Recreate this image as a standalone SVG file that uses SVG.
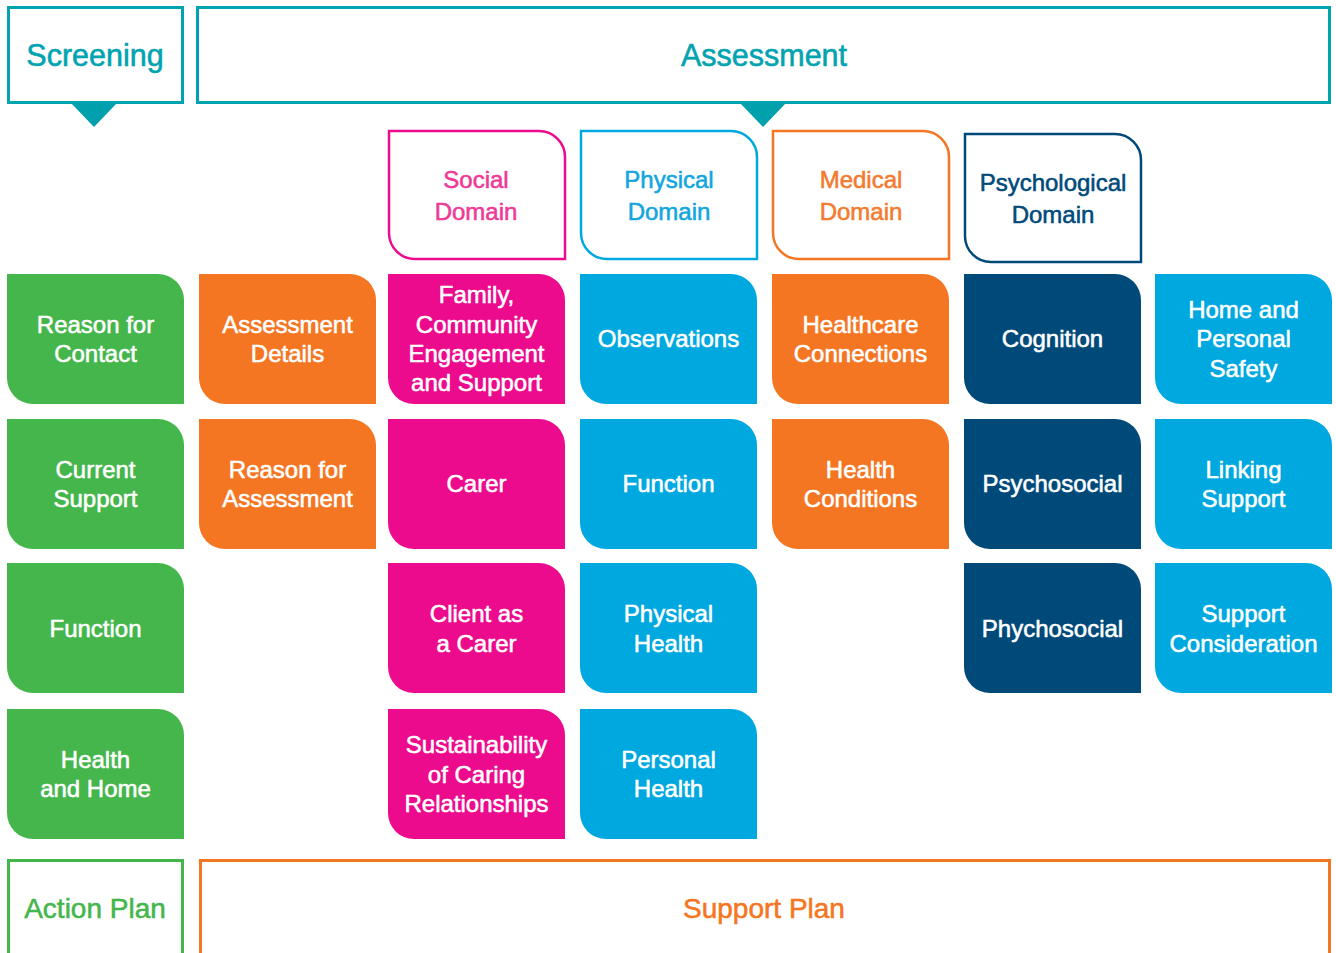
<svg xmlns="http://www.w3.org/2000/svg" xmlns:xlink="http://www.w3.org/1999/xlink" width="1336" height="953" viewBox="0 0 1336 953">
  <style>
    text { font-family: "Liberation Sans", Arial, Helvetica, sans-serif; text-anchor: middle; stroke-width: 0.55; stroke-linejoin: round; }
    .hdr { fill: none; stroke: #00a3b0; stroke-width: 3; }
    .hdr-t { fill: #00a3b0; stroke: #00a3b0; font-size: 30.5px; }
    .tri { fill: #00a0ad; }
    .tile-t { fill: #ffffff; stroke: #ffffff; font-size: 24px; }
    .dom-t { font-size: 24px; }
    .green { fill: #44b64b; }
    .orange { fill: #f47622; }
    .pink { fill: #ec0b8d; }
    .blue { fill: #00a8e0; }
    .navy { fill: #004a7a; }
    .dom { fill: #ffffff; stroke-width: 2.5; }
  </style>
  <defs>
    <!-- tile: rounded top-right and bottom-left corners -->
    <path id="tile" d="M0 0 H151 A26 26 0 0 1 177 26 V130 H26 A26 26 0 0 1 0 104 Z"/>
    <path id="dom" d="M0 0 H150 A26 26 0 0 1 176 26 V128 H26 A26 26 0 0 1 0 102 Z"/>
  </defs>

  <!-- Top headers -->
  <g id="screening">
    <rect class="hdr" x="8.5" y="7.5" width="174" height="95"/>
    <polygon class="tri" points="71,103 117,103 94,127"/>
    <text class="hdr-t" x="95" y="66">Screening</text>
  </g>
  <g id="assessment">
    <rect class="hdr" x="197.5" y="7.5" width="1132" height="95"/>
    <polygon class="tri" points="740,103 786,103 763,127"/>
    <text class="hdr-t" x="764" y="66">Assessment</text>
  </g>

  <!-- Domain headers -->
  <g id="social-domain">
    <use xlink:href="#dom" x="389" y="131" class="dom" style="stroke:#ec0b8d"/>
    <text class="dom-t" fill="#ee3a96" stroke="#ee3a96"><tspan x="476" y="188">Social</tspan><tspan x="476" y="220">Domain</tspan></text>
  </g>
  <g id="physical-domain">
    <use xlink:href="#dom" x="581" y="131" class="dom" style="stroke:#00a8e0"/>
    <text class="dom-t" fill="#12a6df" stroke="#12a6df"><tspan x="669" y="188">Physical</tspan><tspan x="669" y="220">Domain</tspan></text>
  </g>
  <g id="medical-domain">
    <use xlink:href="#dom" x="773" y="131" class="dom" style="stroke:#f47622"/>
    <text class="dom-t" fill="#f47a2e" stroke="#f47a2e"><tspan x="861" y="188">Medical</tspan><tspan x="861" y="220">Domain</tspan></text>
  </g>
  <g id="psychological-domain">
    <use xlink:href="#dom" x="965" y="134" class="dom" style="stroke:#004a7a"/>
    <text class="dom-t" fill="#004a7a" stroke="#004a7a"><tspan x="1053" y="191">Psychological</tspan><tspan x="1053" y="223">Domain</tspan></text>
  </g>

  <!-- Column 1: screening (green) -->
  <g id="reason-for-contact">
    <use xlink:href="#tile" x="7" y="274" class="green"/>
    <text class="tile-t"><tspan x="95.5" y="332.5">Reason for</tspan><tspan x="95.5" y="361.5">Contact</tspan></text>
  </g>
  <g id="current-support">
    <use xlink:href="#tile" x="7" y="419" class="green"/>
    <text class="tile-t"><tspan x="95.5" y="477.5">Current</tspan><tspan x="95.5" y="506.5">Support</tspan></text>
  </g>
  <g id="function-screening">
    <use xlink:href="#tile" x="7" y="563" class="green"/>
    <text class="tile-t"><tspan x="95.5" y="636.5">Function</tspan></text>
  </g>
  <g id="health-and-home">
    <use xlink:href="#tile" x="7" y="709" class="green"/>
    <text class="tile-t"><tspan x="95.5" y="767.5">Health</tspan><tspan x="95.5" y="796.5">and Home</tspan></text>
  </g>

  <!-- Column 2: assessment details (orange) -->
  <g id="assessment-details">
    <use xlink:href="#tile" x="199" y="274" class="orange"/>
    <text class="tile-t"><tspan x="287.5" y="332.5">Assessment</tspan><tspan x="287.5" y="361.5">Details</tspan></text>
  </g>
  <g id="reason-for-assessment">
    <use xlink:href="#tile" x="199" y="419" class="orange"/>
    <text class="tile-t"><tspan x="287.5" y="477.5">Reason for</tspan><tspan x="287.5" y="506.5">Assessment</tspan></text>
  </g>

  <!-- Column 3: social domain (pink) -->
  <g id="family-community">
    <use xlink:href="#tile" x="388" y="274" class="pink"/>
    <text class="tile-t"><tspan x="476.5" y="303">Family,</tspan><tspan x="476.5" y="332.5">Community</tspan><tspan x="476.5" y="361.5">Engagement</tspan><tspan x="476.5" y="391">and Support</tspan></text>
  </g>
  <g id="carer">
    <use xlink:href="#tile" x="388" y="419" class="pink"/>
    <text class="tile-t"><tspan x="476.5" y="492">Carer</tspan></text>
  </g>
  <g id="client-as-carer">
    <use xlink:href="#tile" x="388" y="563" class="pink"/>
    <text class="tile-t"><tspan x="476.5" y="621.5">Client as</tspan><tspan x="476.5" y="651.5">a Carer</tspan></text>
  </g>
  <g id="sustainability">
    <use xlink:href="#tile" x="388" y="709" class="pink"/>
    <text class="tile-t"><tspan x="476.5" y="753">Sustainability</tspan><tspan x="476.5" y="782.5">of Caring</tspan><tspan x="476.5" y="812">Relationships</tspan></text>
  </g>

  <!-- Column 4: physical domain (blue) -->
  <g id="observations">
    <use xlink:href="#tile" x="580" y="274" class="blue"/>
    <text class="tile-t"><tspan x="668.5" y="347">Observations</tspan></text>
  </g>
  <g id="function-physical">
    <use xlink:href="#tile" x="580" y="419" class="blue"/>
    <text class="tile-t"><tspan x="668.5" y="492">Function</tspan></text>
  </g>
  <g id="physical-health">
    <use xlink:href="#tile" x="580" y="563" class="blue"/>
    <text class="tile-t"><tspan x="668.5" y="621.5">Physical</tspan><tspan x="668.5" y="651.5">Health</tspan></text>
  </g>
  <g id="personal-health">
    <use xlink:href="#tile" x="580" y="709" class="blue"/>
    <text class="tile-t"><tspan x="668.5" y="767.5">Personal</tspan><tspan x="668.5" y="796.5">Health</tspan></text>
  </g>

  <!-- Column 5: medical domain (orange) -->
  <g id="healthcare-connections">
    <use xlink:href="#tile" x="772" y="274" class="orange"/>
    <text class="tile-t"><tspan x="860.5" y="332.5">Healthcare</tspan><tspan x="860.5" y="361.5">Connections</tspan></text>
  </g>
  <g id="health-conditions">
    <use xlink:href="#tile" x="772" y="419" class="orange"/>
    <text class="tile-t"><tspan x="860.5" y="477.5">Health</tspan><tspan x="860.5" y="506.5">Conditions</tspan></text>
  </g>

  <!-- Column 6: psychological domain (navy) -->
  <g id="cognition">
    <use xlink:href="#tile" x="964" y="274" class="navy"/>
    <text class="tile-t"><tspan x="1052.5" y="347">Cognition</tspan></text>
  </g>
  <g id="psychosocial">
    <use xlink:href="#tile" x="964" y="419" class="navy"/>
    <text class="tile-t"><tspan x="1052.5" y="492">Psychosocial</tspan></text>
  </g>
  <g id="phychosocial">
    <use xlink:href="#tile" x="964" y="563" class="navy"/>
    <text class="tile-t"><tspan x="1052.5" y="636.5">Phychosocial</tspan></text>
  </g>

  <!-- Column 7: support (blue) -->
  <g id="home-personal-safety">
    <use xlink:href="#tile" x="1155" y="274" class="blue"/>
    <text class="tile-t"><tspan x="1243.5" y="318">Home and</tspan><tspan x="1243.5" y="347">Personal</tspan><tspan x="1243.5" y="376.5">Safety</tspan></text>
  </g>
  <g id="linking-support">
    <use xlink:href="#tile" x="1155" y="419" class="blue"/>
    <text class="tile-t"><tspan x="1243.5" y="477.5">Linking</tspan><tspan x="1243.5" y="506.5">Support</tspan></text>
  </g>
  <g id="support-consideration">
    <use xlink:href="#tile" x="1155" y="563" class="blue"/>
    <text class="tile-t"><tspan x="1243.5" y="621.5">Support</tspan><tspan x="1243.5" y="651.5">Consideration</tspan></text>
  </g>

  <!-- Bottom plans -->
  <g id="action-plan">
    <polyline points="8.5,955 8.5,860.5 182.5,860.5 182.5,955" fill="none" stroke="#44b64b" stroke-width="3"/>
    <text x="95" y="918" font-size="28" fill="#44b64b" stroke="#44b64b">Action Plan</text>
  </g>
  <g id="support-plan">
    <polyline points="200.5,955 200.5,860.5 1329.5,860.5 1329.5,955" fill="none" stroke="#f47622" stroke-width="3"/>
    <text x="764" y="918" font-size="28" fill="#f47622" stroke="#f47622">Support Plan</text>
  </g>

  <!-- no connectors in this layout -->
  <g id="connectors"/>
</svg>
